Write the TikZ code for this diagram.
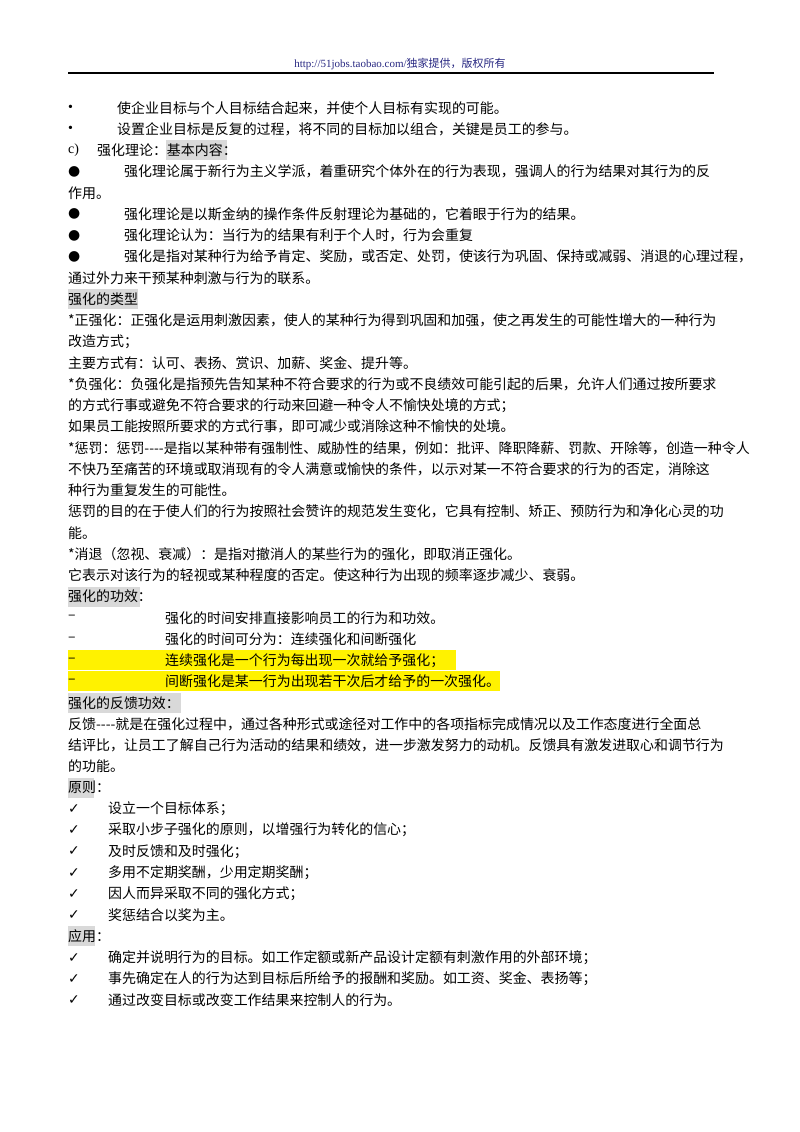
\documentclass[tikz,border=0pt]{standalone}
\usepackage{fontspec}
\setmainfont{Noto Sans CJK SC}
\newfontfamily\serifL{Liberation Serif}
\newfontfamily\dv{DejaVu Sans}
\definecolor{hl}{RGB}{217,217,217}
\definecolor{hdr}{RGB}{40,40,130}
\newcommand\Yr[1]{108+21.24*#1}
\newcommand\dsh{-{}-{}-{}-}
\begin{document}
\begin{tikzpicture}[x=1pt,y=-1pt,font=\fontsize{13.95}{16}\selectfont,
  every node/.style={anchor=west,inner sep=0pt},
  grey/.style={fill=hl,draw=none},
  yel/.style={fill=yellow,draw=none}]
\useasboundingbox (0,0) rectangle (800,1132);
\fill[white] (0,0) rectangle (800,1132);
\node[anchor=center,text=hdr,font=\serifL\fontsize{11}{13}\selectfont] (hd) at (400,64) {http://51jobs.taobao.com/\fontspec{Noto Sans CJK SC}独家提供，版权所有};
\draw[line width=1.3pt] (68,73) -- (714,73);
% highlights
\fill[grey] (166,{\Yr{2}-10}) rectangle (227,{\Yr{2}+10});
\fill[grey] (68,{\Yr{9}-10}) rectangle (138,{\Yr{9}+10});
\fill[grey] (68,{\Yr{23}-10}) rectangle (140,{\Yr{23}+10});
\fill[yel] (68,{\Yr{26}-10}) rectangle (456,{\Yr{26}+10});
\fill[yel] (68,{\Yr{27}-10}) rectangle (500,{\Yr{27}+10});
\fill[grey] (68,{\Yr{28}-10}) rectangle (181,{\Yr{28}+10});
\fill[grey] (68,{\Yr{32}-10}) rectangle (94,{\Yr{32}+10});
\fill[grey] (68,{\Yr{39}-10}) rectangle (95,{\Yr{39}+10});
% rows
\node (b0) at (68,{\Yr{0}}) {\serifL •}; \node (t0) at (117,{\Yr{0}}) {使企业目标与个人目标结合起来，并使个人目标有实现的可能。};
\node (b1) at (68,{\Yr{1}}) {\serifL •}; \node (t1) at (117,{\Yr{1}}) {设置企业目标是反复的过程，将不同的目标加以组合，关键是员工的参与。};
\node (b2) at (68,{\Yr{2}}) {\serifL c)}; \node (t2) at (97,{\Yr{2}}) {强化理论：基本内容：};
\node (b3) at (68,{\Yr{3}}) {\dv ●}; \node (t3) at (124,{\Yr{3}}) {强化理论属于新行为主义学派，着重研究个体外在的行为表现，强调人的行为结果对其行为的反};
\node (t4) at (68,{\Yr{4}}) {作用。};
\node (b5) at (68,{\Yr{5}}) {\dv ●}; \node (t5) at (124,{\Yr{5}}) {强化理论是以斯金纳的操作条件反射理论为基础的，它着眼于行为的结果。};
\node (b6) at (68,{\Yr{6}}) {\dv ●}; \node (t6) at (124,{\Yr{6}}) {强化理论认为：当行为的结果有利于个人时，行为会重复};
\node (b7) at (68,{\Yr{7}}) {\dv ●}; \node (t7) at (124,{\Yr{7}}) {强化是指对某种行为给予肯定、奖励，或否定、处罚，使该行为巩固、保持或减弱、消退的心理过程，};
\node (t8) at (68,{\Yr{8}}) {通过外力来干预某种刺激与行为的联系。};
\node (t9) at (68,{\Yr{9}}) {强化的类型};
\node (t10) at (68,{\Yr{10}}) {*正强化：正强化是运用刺激因素，使人的某种行为得到巩固和加强，使之再发生的可能性增大的一种行为};
\node (t11) at (68,{\Yr{11}}) {改造方式；};
\node (t12) at (68,{\Yr{12}}) {主要方式有：认可、表扬、赏识、加薪、奖金、提升等。};
\node (t13) at (68,{\Yr{13}}) {*负强化：负强化是指预先告知某种不符合要求的行为或不良绩效可能引起的后果，允许人们通过按所要求};
\node (t14) at (68,{\Yr{14}}) {的方式行事或避免不符合要求的行动来回避一种令人不愉快处境的方式；};
\node (t15) at (68,{\Yr{15}}) {如果员工能按照所要求的方式行事，即可减少或消除这种不愉快的处境。};
\node (t16) at (68,{\Yr{16}}) {*惩罚：惩罚\dsh 是指以某种带有强制性、威胁性的结果，例如：批评、降职降薪、罚款、开除等，创造一种令人};
\node (t17) at (68,{\Yr{17}}) {不快乃至痛苦的环境或取消现有的令人满意或愉快的条件，以示对某一不符合要求的行为的否定，消除这};
\node (t18) at (68,{\Yr{18}}) {种行为重复发生的可能性。};
\node (t19) at (68,{\Yr{19}}) {惩罚的目的在于使人们的行为按照社会赞许的规范发生变化，它具有控制、矫正、预防行为和净化心灵的功};
\node (t20) at (68,{\Yr{20}}) {能。};
\node (t21) at (68,{\Yr{21}}) {*消退（忽视、衰减）：是指对撤消人的某些行为的强化，即取消正强化。};
\node (t22) at (68,{\Yr{22}}) {它表示对该行为的轻视或某种程度的否定。使这种行为出现的频率逐步减少、衰弱。};
\node (t23) at (68,{\Yr{23}}) {强化的功效：};
\node (b24) at (68,{\Yr{24}}) {–}; \node (t24) at (165,{\Yr{24}}) {强化的时间安排直接影响员工的行为和功效。};
\node (b25) at (68,{\Yr{25}}) {–}; \node (t25) at (165,{\Yr{25}}) {强化的时间可分为：连续强化和间断强化};
\node (b26) at (68,{\Yr{26}}) {–}; \node (t26) at (165,{\Yr{26}}) {连续强化是一个行为每出现一次就给予强化；};
\node (b27) at (68,{\Yr{27}}) {–}; \node (t27) at (165,{\Yr{27}}) {间断强化是某一行为出现若干次后才给予的一次强化。};
\node (t28) at (68,{\Yr{28}}) {强化的反馈功效：};
\node (t29) at (68,{\Yr{29}}) {反馈\dsh 就是在强化过程中，通过各种形式或途径对工作中的各项指标完成情况以及工作态度进行全面总};
\node (t30) at (68,{\Yr{30}}) {结评比，让员工了解自己行为活动的结果和绩效，进一步激发努力的动机。反馈具有激发进取心和调节行为};
\node (t31) at (68,{\Yr{31}}) {的功能。};
\node (t32) at (68,{\Yr{32}}) {原则：};
\node (c33) at (68,{\Yr{33}}) {\dv ✓}; \node (t33) at (108,{\Yr{33}}) {设立一个目标体系；};
\node (c34) at (68,{\Yr{34}}) {\dv ✓}; \node (t34) at (108,{\Yr{34}}) {采取小步子强化的原则，以增强行为转化的信心；};
\node (c35) at (68,{\Yr{35}}) {\dv ✓}; \node (t35) at (108,{\Yr{35}}) {及时反馈和及时强化；};
\node (c36) at (68,{\Yr{36}}) {\dv ✓}; \node (t36) at (108,{\Yr{36}}) {多用不定期奖酬，少用定期奖酬；};
\node (c37) at (68,{\Yr{37}}) {\dv ✓}; \node (t37) at (108,{\Yr{37}}) {因人而异采取不同的强化方式；};
\node (c38) at (68,{\Yr{38}}) {\dv ✓}; \node (t38) at (108,{\Yr{38}}) {奖惩结合以奖为主。};
\node (t39) at (68,{\Yr{39}}) {应用：};
\node (c40) at (68,{\Yr{40}}) {\dv ✓}; \node (t40) at (108,{\Yr{40}}) {确定并说明行为的目标。如工作定额或新产品设计定额有刺激作用的外部环境；};
\node (c41) at (68,{\Yr{41}}) {\dv ✓}; \node (t41) at (108,{\Yr{41}}) {事先确定在人的行为达到目标后所给予的报酬和奖励。如工资、奖金、表扬等；};
\node (c42) at (68,{\Yr{42}}) {\dv ✓}; \node (t42) at (108,{\Yr{42}}) {通过改变目标或改变工作结果来控制人的行为。};
\end{tikzpicture}
\end{document}
